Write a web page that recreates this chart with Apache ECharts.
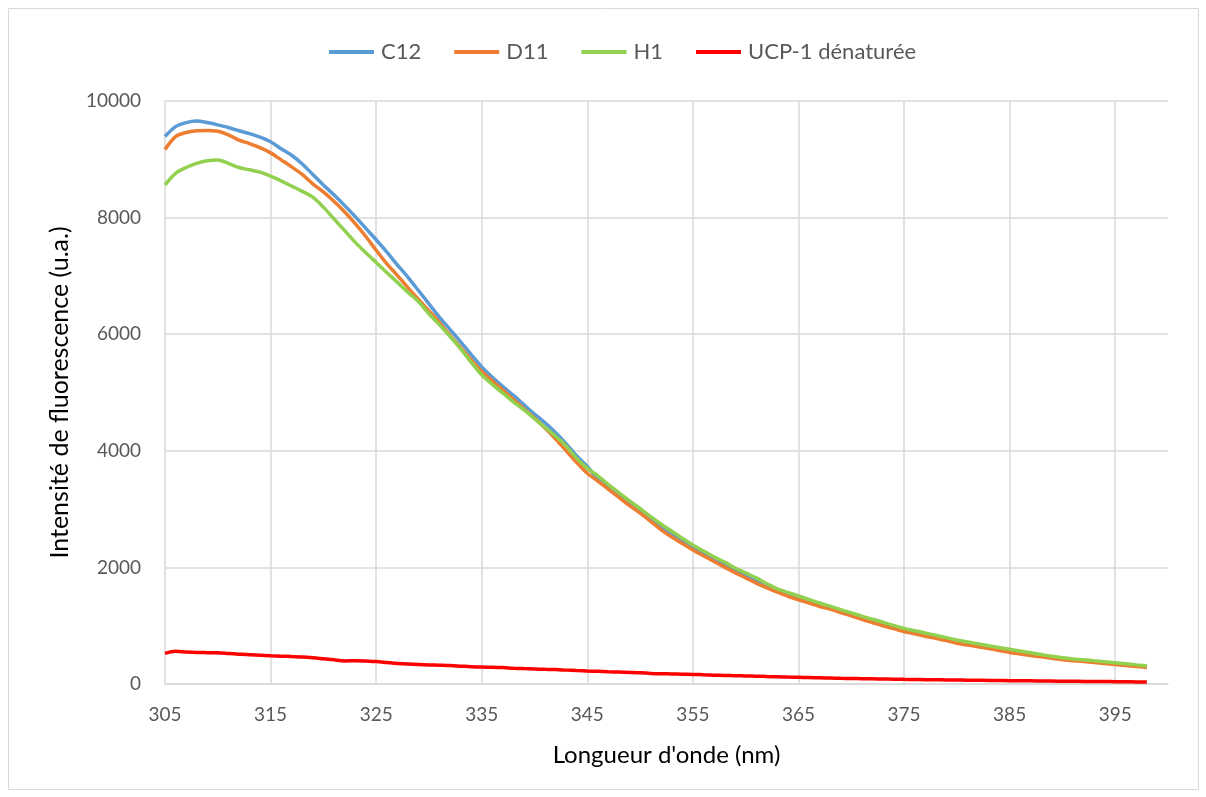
<!DOCTYPE html>
<html>
<head>
<meta charset="utf-8">
<script src="https://cdn.jsdelivr.net/npm/echarts@6/dist/echarts.min.js"></script>
<style>
html,body{margin:0;padding:0;background:#fff;}
#chart{width:1206px;height:797px;}
</style>
</head>
<body>
<div id="chart"></div>
<script>
// Wavelengths (nm)
var wavelengths = [305,306,307,308,309,310,311,312,313,314,315,316,317,318,319,320,321,322,323,324,325,326,327,328,329,330,331,332,333,334,335,336,337,338,339,340,341,342,343,344,345,346,347,348,349,350,351,352,353,354,355,356,357,358,359,360,361,362,363,364,365,366,367,368,369,370,371,372,373,374,375,376,377,378,379,380,381,382,383,384,385,386,387,388,389,390,391,392,393,394,395,396,397,398,399,400];

var seriesNames = ['C12','D11','H1','UCP-1 dénaturée'];

var c12 = [9390,9560,9630,9655,9630,9590,9545,9490,9440,9380,9300,9180,9070,8920,8740,8560,8390,8210,8020,7820,7620,7410,7190,6980,6750,6520,6290,6080,5870,5650,5440,5260,5100,4950,4790,4630,4480,4310,4120,3910,3730,3520,3370,3230,3090,2960,2820,2680,2555,2440,2330,2230,2130,2035,1940,1850,1760,1680,1600,1530,1470,1410,1350,1300,1240,1185,1125,1070,1015,965,915,875,835,800,760,715,685,655,625,590,555,530,505,480,455,430,412,396,380,362,346,328,311,294];

var d11 = [9170,9390,9460,9490,9495,9480,9420,9330,9270,9200,9110,8990,8870,8740,8580,8440,8280,8100,7900,7680,7440,7210,7010,6800,6600,6400,6200,5980,5770,5560,5360,5200,5040,4880,4720,4560,4390,4200,4000,3800,3614,3480,3340,3200,3060,2930,2790,2645,2520,2410,2300,2200,2100,2005,1910,1820,1730,1650,1575,1505,1445,1390,1330,1285,1225,1170,1110,1055,1000,950,900,860,820,785,745,700,670,640,610,575,540,515,490,465,440,415,400,385,370,352,336,318,302,285];

var h1 = [8560,8760,8860,8930,8975,8990,8930,8860,8820,8780,8710,8630,8540,8450,8350,8180,7980,7780,7580,7400,7230,7060,6890,6720,6560,6350,6160,5960,5750,5520,5300,5140,4990,4840,4700,4550,4400,4250,4080,3870,3700,3570,3420,3280,3140,3010,2870,2740,2620,2500,2385,2280,2180,2090,1990,1905,1820,1720,1630,1570,1510,1450,1390,1335,1275,1220,1165,1110,1060,1005,955,915,875,835,795,755,720,690,655,625,595,565,535,505,475,450,430,415,398,382,366,348,328,309];

var ucp1 = [526,560,548,540,538,537,525,512,500,494,486,478,470,463,450,432,414,396,398,396,384,368,352,342,336,328,322,316,306,296,290,288,282,272,264,258,252,247,238,230,223,217,210,204,198,192,182,176,172,168,164,158,152,146,142,138,134,128,123,118,114,110,106,102,98,95,92,89,86,83,80,78,75,73,70,68,66,64,61,59,57,55,54,52,50,48,47,45,44,42,40,38,36,34];

var yTicks = {min:0, max:10000, interval:2000};

var colors = ['#5B9BD5','#ED7D31','#92D050','#FF0000'];
var FONT = 'Lato, "Open Sans", sans-serif';

var chart = echarts.init(document.getElementById('chart'), null, {renderer:'canvas'});
var dataSets = [c12, d11, h1, ucp1];
var series = dataSets.map(function(d, i){
  return {
    name: seriesNames[i],
    type: 'line',
    data: d,
    symbol: 'none',
    smooth: 0.3,
    lineStyle: {width: 3.5, color: colors[i]},
    itemStyle: {color: colors[i]},
    z: 2 + i
  };
});

chart.setOption({
  animation: false,
  backgroundColor: '#ffffff',
  graphic: [{
    type: 'rect',
    shape: {x: 8.5, y: 8.5, width: 1190, height: 781},
    style: {fill: 'none', stroke: '#d9d9d9', lineWidth: 1},
    silent: true
  }],
  legend: {
    top: 36,
    left: 324,
    icon: 'rect',
    itemWidth: 45,
    itemHeight: 4,
    itemGap: 33,
    textStyle: {fontFamily: FONT, fontSize: 22, color: '#595959', padding: [0,0,0,2]},
    data: seriesNames
  },
  grid: {left: 165, right: 38, top: 101, bottom: 113, containLabel: false},
  xAxis: {
    type: 'category',
    data: wavelengths,
    boundaryGap: false,
    name: "Longueur d'onde (nm)",
    nameLocation: 'middle',
    nameGap: 59,
    nameTextStyle: {fontFamily: FONT, fontSize: 24, color: '#000000'},
    axisLine: {show: true, lineStyle: {color: '#d9d9d9', width: 1.5}},
    axisTick: {show: false},
    axisLabel: {interval: 9, fontFamily: FONT, fontSize: 19, color: '#595959', margin: 21},
    splitLine: {show: true, interval: 9, lineStyle: {color: '#d9d9d9', width: 1.5}}
  },
  yAxis: {
    type: 'value',
    min: yTicks.min,
    max: yTicks.max,
    interval: yTicks.interval,
    name: 'Intensité de fluorescence (u.a.)',
    nameLocation: 'middle',
    nameGap: 93,
    nameRotate: 90,
    nameTextStyle: {fontFamily: FONT, fontSize: 25, color: '#000000'},
    axisLine: {show: false},
    axisTick: {show: false},
    axisLabel: {fontFamily: FONT, fontSize: 19, color: '#595959', margin: 24,
      formatter: function(v){ return String(v); }},
    splitLine: {show: true, lineStyle: {color: '#d9d9d9', width: 1.5}}
  },
  series: series
});
</script>
</body>
</html>
